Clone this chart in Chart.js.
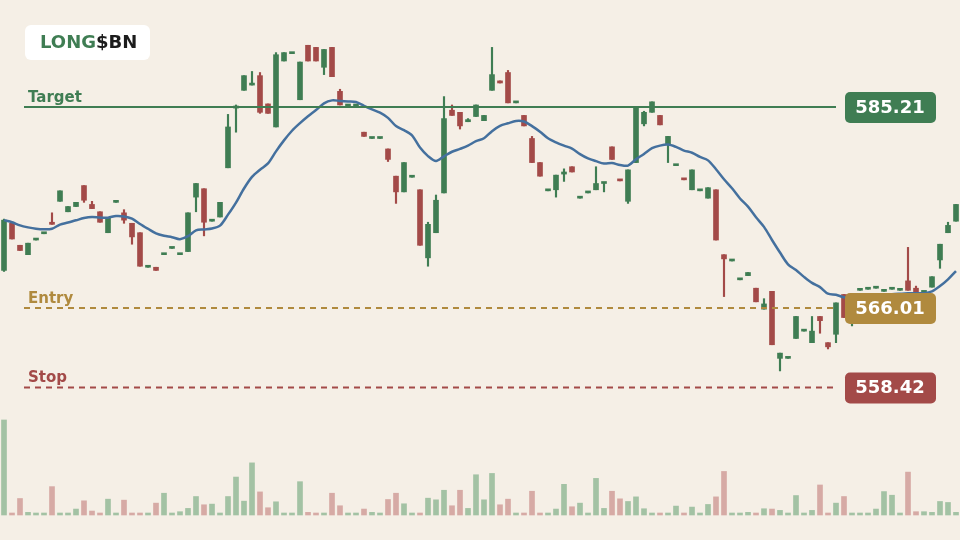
<!DOCTYPE html>
<html>
<head>
<meta charset="utf-8">
<script src="https://cdn.jsdelivr.net/npm/chart.js@4.4.1/dist/chart.umd.min.js"></script>
<style>
  html,body{margin:0;padding:0;background:#f5efe6;}
  #wrap{width:960px;height:540px;position:relative;}
</style>
</head>
<body>
<div id="wrap"><canvas id="c" width="960" height="540"></canvas></div>
<script>
// OHLC por vela
const opens  = [569.6,574.1,572.0,571.1,572.5,573.1,574.2,576.2,575.2,575.7,577.7,575.9,575.2,573.2,576.1,575.1,574.1,573.2,569.9,569.9,
  571.1,571.7,571.1,571.4,576.6,577.4,574.3,574.7,579.4,585.1,586.8,587.3,588.2,585.5,583.3,589.6,590.3,585.9,591.1,590.9,
  589.0,590.9,586.7,585.3,585.3,582.8,582.2,582.2,581.2,578.6,577.1,578.5,577.3,570.8,573.2,577.0,584.9,584.7,583.8,584.3,
  583.9,586.8,587.7,588.5,585.6,584.4,582.2,579.9,577.2,577.3,578.8,579.5,576.5,577.0,577.3,577.9,581.4,578.25,576.2,579.9,
  583.6,584.7,584.4,581.7,579.6,578.35,577.3,577.2,576.5,577.3,571.1,570.5,568.7,569.1,567.9,565.9,567.6,561.2,561.2,563.1,
  563.8,562.7,565.2,562.7,563.5,567.3,565.1,567.7,567.8,567.9,567.6,567.8,567.7,568.6,567.9,567.5,568.0,570.6,573.2,574.3];
const highs  = [574.5,574.1,572.0,572.2,572.5,573.1,575.1,577.2,575.7,576.1,577.7,576.2,575.2,574.6,576.1,575.4,574.1,573.2,569.9,569.9,
  571.1,571.7,571.1,575.1,577.9,577.4,574.3,576.1,584.5,585.4,588.2,588.6,588.5,585.5,590.4,590.4,590.3,589.5,591.1,590.9,
  590.7,590.9,586.9,585.3,585.3,582.8,582.2,582.2,581.2,578.6,579.9,578.5,577.3,574.2,576.8,586.2,585.4,584.7,584.1,585.4,
  584.4,590.9,587.7,588.7,585.6,584.4,582.4,579.9,577.2,578.7,579.3,579.5,576.5,577.0,579.5,578.0,581.4,578.25,579.2,585.1,
  584.8,585.7,584.4,582.4,579.6,578.35,579.2,577.2,577.5,577.3,571.1,570.5,568.7,569.4,567.9,566.9,567.6,561.7,561.2,565.2,
  563.8,565.2,565.2,562.7,566.5,567.3,566.6,567.7,567.8,567.9,567.6,567.8,567.7,571.8,568.1,567.5,569.0,572.1,574.2,575.9];
const lows   = [569.5,572.6,571.5,571.1,572.5,573.1,574.0,576.2,575.2,575.7,576.1,575.5,574.2,573.2,576.1,574.1,572.1,570.0,569.9,569.6,
  571.1,571.7,571.1,571.4,575.2,572.9,574.3,574.7,579.4,582.8,586.8,587.3,584.6,584.6,583.3,589.6,590.3,585.9,589.6,589.6,
  588.3,588.1,585.4,585.3,585.3,582.4,582.2,582.2,580.0,576.0,577.1,578.5,572.0,570.0,573.2,577.0,584.4,583.1,583.8,584.3,
  583.9,586.8,587.5,585.6,585.6,583.4,579.9,578.6,577.2,576.6,578.1,579.0,576.5,577.0,577.3,577.1,580.2,578.15,576.0,579.9,
  583.4,584.7,583.5,579.9,579.6,578.25,577.3,577.2,576.5,572.5,567.1,570.5,568.7,569.1,566.6,565.9,562.5,560.0,561.2,563.1,
  563.8,562.7,563.6,562.1,562.7,565.1,564.3,567.7,567.8,567.9,567.6,567.8,567.7,567.7,567.4,567.5,568.0,569.8,573.2,574.3];
const closes = [574.4,572.6,571.5,572.2,572.5,573.1,574.0,577.2,575.7,576.1,576.3,575.5,574.2,574.6,576.1,574.4,572.8,570.0,569.9,569.6,
  571.1,571.7,571.1,575.1,577.9,574.2,574.3,576.1,583.3,585.3,588.2,587.4,584.7,584.6,590.2,590.4,590.3,589.5,589.6,589.6,
  590.7,588.1,585.4,585.3,585.3,582.4,582.2,582.2,580.2,577.1,579.9,578.5,572.0,574.0,576.3,584.1,584.4,583.4,584.0,585.4,
  584.4,588.3,587.5,585.6,585.6,583.4,579.9,578.6,577.2,578.7,579.0,579.0,576.5,577.0,577.9,578.0,580.2,578.15,579.2,585.1,
  584.7,585.7,583.5,582.4,579.6,578.25,579.2,577.2,577.5,572.5,570.7,570.5,568.7,569.4,566.6,566.4,562.5,561.7,561.2,565.2,
  563.8,563.8,564.8,562.3,566.5,565.1,566.6,567.7,567.8,567.9,567.6,567.8,567.7,567.7,567.5,567.5,569.0,572.1,573.9,575.9];
const volumes = [288,6,50,8,6,6,86,6,6,18,43,12,6,48,6,45,6,6,6,36,66,6,10,20,56,31,33,6,56,115,
  42,158,70,22,40,6,6,101,8,6,6,66,28,6,6,18,8,6,47,66,34,6,6,51,46,75,28,75,20,122,
  46,126,31,48,6,6,72,6,6,18,93,25,36,6,111,20,72,49,41,55,19,6,6,6,27,6,24,6,32,55,
  132,6,6,8,6,19,18,14,6,59,6,14,91,6,36,56,6,6,6,18,71,60,6,130,10,10,8,41,38,8];

const target = 585.21, entry = 566.01, stop = 558.42;

const GREEN = '#3f7d53', RED = '#a34a48', GOLD = '#b08a3e', BLUE = '#44709e';
const up = opens.map((o,i)=>closes[i]>=o);

// media movil exponencial de los cierres
const maPeriod = 17;
const ma = [];
closes.forEach((c,i)=>{
  ma.push(i===0 ? c : ma[i-1] + (c-ma[i-1])*2/(maPeriod+1));
});

const idx = closes.map((_,i)=>i);

const levelsPlugin = {
  id:'levels',
  afterDatasetsDraw(chart){
    const {ctx, scales:{y}} = chart;
    const x0 = 24, x1 = 836;
    const lv = [
      {v:target, c:GREEN, t:'Target', dash:[]},
      {v:entry,  c:GOLD,  t:'Entry',  dash:[6,5]},
      {v:stop,   c:RED,   t:'Stop',   dash:[6,5]}
    ];
    ctx.save();
    lv.forEach(l=>{
      const py = y.getPixelForValue(l.v);
      ctx.strokeStyle = l.c; ctx.lineWidth = 2; ctx.setLineDash(l.dash);
      ctx.beginPath(); ctx.moveTo(x0,py); ctx.lineTo(x1,py); ctx.stroke();
      ctx.setLineDash([]);
      ctx.fillStyle = l.c; ctx.font = 'bold 15px "DejaVu Sans"';
      ctx.textAlign = 'left'; ctx.textBaseline = 'alphabetic';
      ctx.fillText(l.t, 28, py-5);
      // etiqueta derecha
      ctx.beginPath(); ctx.roundRect(845, py-15, 91, 31, 5); ctx.fill();
      ctx.fillStyle = '#ffffff'; ctx.font = 'bold 18px "DejaVu Sans"';
      ctx.textAlign = 'center'; ctx.textBaseline = 'middle';
      ctx.fillText(l.v.toFixed(2), 890, py+1);
    });
    // logo
    ctx.fillStyle = '#ffffff';
    ctx.beginPath(); ctx.roundRect(25, 25, 125, 35, 6); ctx.fill();
    ctx.font = 'bold 18px "DejaVu Sans"'; ctx.textAlign = 'left'; ctx.textBaseline = 'middle';
    ctx.fillStyle = GREEN; ctx.fillText('LONG', 40, 43);
    const w = ctx.measureText('LONG').width;
    ctx.fillStyle = '#1c1c1c'; ctx.fillText('$BN', 40+w, 43);
    ctx.restore();
  }
};

new Chart(document.getElementById('c'), {
  data:{
    datasets:[
      {
        type:'bar', label:'vol', yAxisID:'yv', order:5, grouped:false, clip:false,
        data: idx.map(i=>({x:i, y:volumes[i]})),
        backgroundColor: up.map(u=>u ? '#a3c2a4' : '#d6aaa5'),
        barThickness:5, minBarLength:2
      },
      {
        type:'line', label:'ma', order:1, clip:false,
        data: idx.map(i=>({x:i, y:ma[i]})),
        borderColor:BLUE, borderWidth:2.5, pointRadius:0, tension:0.3
      },
      {
        type:'bar', label:'wick', order:3, grouped:false, clip:false,
        data: idx.map(i=>({x:i, y:[lows[i], highs[i]]})),
        backgroundColor: up.map(u=>u ? GREEN : RED),
        barThickness:1.5, minBarLength:1
      },
      {
        type:'bar', label:'body', order:2, grouped:false, clip:false,
        data: idx.map(i=>({x:i, y:[opens[i], closes[i]]})),
        backgroundColor: up.map(u=>u ? GREEN : RED),
        barThickness:5, minBarLength:2
      }
    ]
  },
  options:{
    responsive:false, animation:false,
    layout:{ padding:{ left:4, right:4, top:30, bottom:25 } },
    plugins:{ legend:{display:false}, tooltip:{enabled:false} },
    scales:{
      x:{ type:'linear', min:0, max:119, display:false, offset:false },
      y:{ min:546.24, max:592.56, display:false },
      yv:{ min:0, max:1470, display:false }
    }
  },
  plugins:[levelsPlugin]
});
</script>
</body>
</html>
